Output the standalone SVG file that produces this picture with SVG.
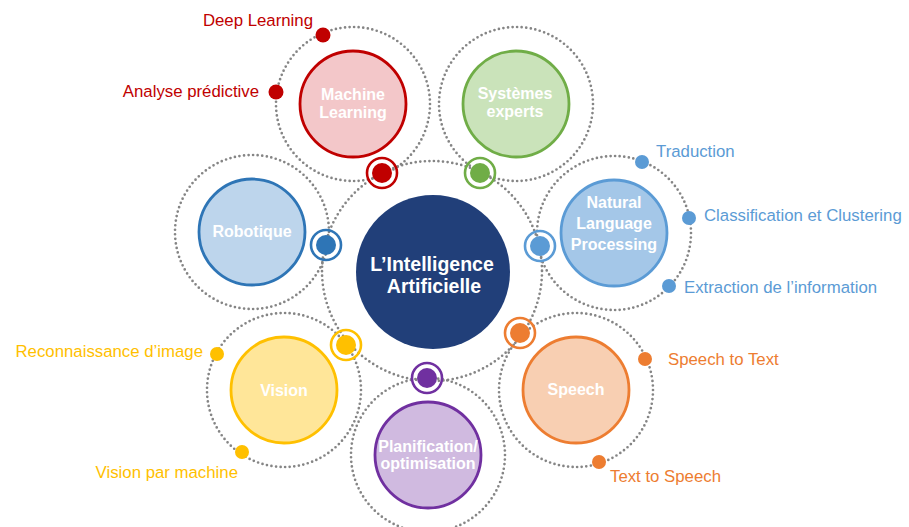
<svg xmlns="http://www.w3.org/2000/svg" width="909" height="527" viewBox="0 0 909 527">
<style>
.dot{fill:none;stroke:#858585;stroke-width:2.7;stroke-dasharray:0 4.6;stroke-linecap:round}
.nl{font-family:"Liberation Sans",Arial,sans-serif;font-weight:bold;font-size:16px;fill:#ffffff;text-anchor:middle}
.cl{font-family:"Liberation Sans",Arial,sans-serif;font-weight:bold;font-size:19.5px;fill:#ffffff;text-anchor:middle}
.lb{font-family:"Liberation Sans",Arial,sans-serif;font-size:16.8px}
.ring{fill:none;stroke-width:2.6}
.node{stroke-width:2.8}
</style>
<rect width="909" height="527" fill="#ffffff"/>
<g id="connectors">
  <circle class="dot" cx="432" cy="271" r="110"/>
  <circle class="dot" cx="353" cy="104" r="77"/>
  <circle class="dot" cx="516" cy="104" r="77"/>
  <circle class="dot" cx="614" cy="233" r="77"/>
  <circle class="dot" cx="576" cy="390" r="77"/>
  <circle class="dot" cx="428" cy="455" r="77"/>
  <circle class="dot" cx="284" cy="390" r="77"/>
  <circle class="dot" cx="252" cy="232" r="77"/>
</g>
<g id="center">
  <circle cx="433" cy="272" r="77" fill="#213F79"/>
  <text class="cl" x="432" y="271">L’Intelligence</text>
  <text class="cl" x="434" y="293">Artificielle</text>
</g>
<g id="machine-learning">
  <circle class="node" cx="353" cy="104" r="53" fill="#F3C7C9" stroke="#C00000"/>
  <text class="nl" x="353" y="100">Machine</text>
  <text class="nl" x="353" y="118">Learning</text>
  <circle class="ring" cx="382" cy="173" r="15" stroke="#C00000"/>
  <circle cx="382" cy="173" r="10" fill="#C00000"/>
  <circle cx="323" cy="35" r="7.5" fill="#C00000"/>
  <circle cx="276" cy="92" r="7.5" fill="#C00000"/>
  <text class="lb" x="313" y="26" text-anchor="end" fill="#C00000">Deep Learning</text>
  <text class="lb" x="259" y="97" text-anchor="end" fill="#C00000">Analyse prédictive</text>
</g>
<g id="systemes-experts">
  <circle class="node" cx="516" cy="104" r="53" fill="#CAE3BA" stroke="#70AD47"/>
  <text class="nl" x="515" y="99">Systèmes</text>
  <text class="nl" x="515" y="117">experts</text>
  <circle class="ring" cx="480" cy="173" r="15" stroke="#70AD47"/>
  <circle cx="480" cy="173" r="10" fill="#70AD47"/>
</g>
<g id="nlp">
  <circle class="node" cx="614" cy="233" r="53" fill="#A4C7E8" stroke="#5B9BD5"/>
  <text class="nl" x="614" y="208">Natural</text>
  <text class="nl" x="614" y="229">Language</text>
  <text class="nl" x="614" y="250">Processing</text>
  <circle class="ring" cx="540" cy="246" r="15" stroke="#5B9BD5"/>
  <circle cx="540" cy="246" r="10" fill="#5B9BD5"/>
  <circle cx="642" cy="162" r="7" fill="#5B9BD5"/>
  <circle cx="689" cy="218" r="7" fill="#5B9BD5"/>
  <circle cx="669" cy="286" r="7" fill="#5B9BD5"/>
  <text class="lb" x="656" y="157" fill="#5B9BD5">Traduction</text>
  <text class="lb" x="704" y="221" fill="#5B9BD5">Classification et Clustering</text>
  <text class="lb" x="684" y="293" fill="#5B9BD5">Extraction de l’information</text>
</g>
<g id="speech">
  <circle class="node" cx="576" cy="390" r="53" fill="#F8CFB2" stroke="#ED7D31"/>
  <text class="nl" x="576" y="395">Speech</text>
  <circle class="ring" cx="520" cy="333" r="15" stroke="#ED7D31"/>
  <circle cx="520" cy="333" r="10" fill="#ED7D31"/>
  <circle cx="645" cy="359" r="7" fill="#ED7D31"/>
  <circle cx="599" cy="462" r="7" fill="#ED7D31"/>
  <text class="lb" x="668" y="365" fill="#ED7D31">Speech to Text</text>
  <text class="lb" x="610" y="482" fill="#ED7D31">Text to Speech</text>
</g>
<g id="planification">
  <circle class="node" cx="428" cy="455" r="53" fill="#D0BAE0" stroke="#7030A0"/>
  <text class="nl" x="428" y="452">Planification/</text>
  <text class="nl" x="428" y="469">optimisation</text>
  <circle class="ring" cx="427" cy="378" r="15" stroke="#7030A0"/>
  <circle cx="427" cy="378" r="10" fill="#7030A0"/>
</g>
<g id="vision">
  <circle class="node" cx="284" cy="390" r="53" fill="#FFE699" stroke="#FFC000"/>
  <text class="nl" x="284" y="396">Vision</text>
  <circle class="ring" cx="346" cy="345" r="15" stroke="#FFC000"/>
  <circle cx="346" cy="345" r="10" fill="#FFC000"/>
  <circle cx="217" cy="354" r="7" fill="#FFC000"/>
  <circle cx="242" cy="452" r="7" fill="#FFC000"/>
  <text class="lb" x="203" y="357" text-anchor="end" fill="#FFC000">Reconnaissance d’image</text>
  <text class="lb" x="238" y="478" text-anchor="end" fill="#FFC000">Vision par machine</text>
</g>
<g id="robotique">
  <circle class="node" cx="252" cy="232" r="53" fill="#BDD5EC" stroke="#2E75B6"/>
  <text class="nl" x="252" y="237">Robotique</text>
  <circle class="ring" cx="326" cy="245" r="15" stroke="#2E75B6"/>
  <circle cx="326" cy="245" r="10" fill="#2E75B6"/>
</g>
</svg>
